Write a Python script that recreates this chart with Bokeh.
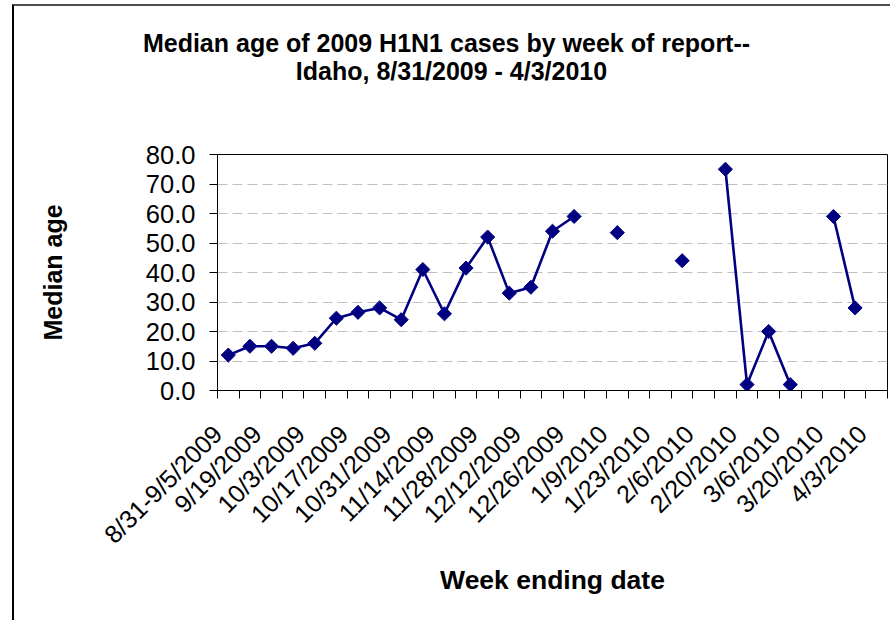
import numpy as np
from bokeh.plotting import figure
from bokeh.layouts import column
from bokeh.models import FixedTicker, PrintfTickFormatter, Label
from bokeh.embed import file_html
from bokeh.resources import INLINE

weeks = ["8/31-9/5/2009", "9/12/2009", "9/19/2009", "9/26/2009", "10/3/2009",
         "10/10/2009", "10/17/2009", "10/24/2009", "10/31/2009", "11/7/2009",
         "11/14/2009", "11/21/2009", "11/28/2009", "12/5/2009", "12/12/2009",
         "12/19/2009", "12/26/2009", "1/2/2010", "1/9/2010", "1/16/2010",
         "1/23/2010", "1/30/2010", "2/6/2010", "2/13/2010", "2/20/2010",
         "2/27/2010", "3/6/2010", "3/13/2010", "3/20/2010", "3/27/2010",
         "4/3/2010"]
median_age = [12.0, 15.0, 15.0, 14.3, 16.0, 24.5, 26.5, 28.0, 24.0, 41.0,
              26.0, 41.5, 52.0, 33.0, 35.0, 54.0, 59.0, None, 53.5, None,
              None, 44.0, None, 75.0, 2.0, 20.0, 2.0, None, 59.0, 28.0,
              None]
y_ticks = [0, 10, 20, 30, 40, 50, 60, 70, 80]
title_lines = ["Median age of 2009 H1N1 cases by week of report--",
               "Idaho, 8/31/2009 - 4/3/2010"]

FONT = "Liberation Sans"
NAVY = "#000080"
W = 876

# ---- title strip ----
TH = 100
tf = figure(width=W, height=TH, x_range=(0, W), y_range=(0, TH),
            x_axis_type=None, y_axis_type=None,
            output_backend="svg", toolbar_location=None,
            min_border=0, min_border_left=0, min_border_right=0,
            min_border_top=0, min_border_bottom=0, frame_align=False)
tf.grid.visible = False
tf.outline_line_color = None
tf.background_fill_color = "white"
tf.border_fill_color = "white"
for line_text, xx, yy in zip(title_lines, [432, 437], [64, 36]):
    tf.add_layout(Label(x=xx, y=yy, x_units="screen", y_units="screen",
                        text=line_text, text_align="center",
                        text_baseline="alphabetic", text_font=FONT,
                        text_font_style="bold", text_font_size="25px",
                        text_color="black"))

# ---- main chart ----
n = len(weeks)
xs = list(range(n))
ys = [np.nan if v is None else v for v in median_age]

p = figure(width=W, height=514, x_range=(-0.5, n - 0.5), y_range=(0, 80),
           output_backend="svg", toolbar_location=None,
           min_border_left=203, min_border_right=3, min_border_top=48,
           min_border_bottom=230, frame_align=False)
p.background_fill_color = "white"
p.border_fill_color = "white"
p.outline_line_color = "black"
p.outline_line_width = 1

p.line(xs, ys, line_color=NAVY, line_width=2.6)
p.scatter(xs, ys, marker="square", angle=np.pi / 4, size=10,
          fill_color=NAVY, line_color=NAVY)

# x axis: labels every other week, tick marks between categories
label_idx = list(range(0, n, 2))
label_pos = [max(i - 0.67, -0.5) for i in label_idx]
p.xaxis.ticker = FixedTicker(ticks=label_pos,
                             minor_ticks=[i - 0.5 for i in range(n + 1)])
p.xaxis.major_label_overrides = {pos: weeks[i] for pos, i in zip(label_pos, label_idx)}
p.xaxis.major_tick_line_color = None
p.xaxis.minor_tick_line_color = "black"
p.xaxis.minor_tick_out = 8
p.xaxis.minor_tick_in = 0
p.xaxis.major_label_orientation = np.pi / 4
p.xaxis.major_label_text_font = FONT
p.xaxis.major_label_text_font_size = "25px"
p.xaxis.major_label_text_color = "black"
p.xaxis.major_label_standoff = 31
p.xaxis.axis_line_color = "black"
p.xaxis.axis_label = "Week ending date"
p.xaxis.axis_label_text_font = FONT
p.xaxis.axis_label_text_font_style = "bold"
p.xaxis.axis_label_text_font_size = "26.5px"
p.xaxis.axis_label_text_color = "black"
p.xaxis.axis_label_standoff = 4

# y axis
p.yaxis.ticker = FixedTicker(ticks=y_ticks)
p.yaxis.formatter = PrintfTickFormatter(format="%.1f")
p.yaxis.major_tick_out = 8
p.yaxis.major_tick_in = 0
p.yaxis.minor_tick_line_color = None
p.yaxis.major_tick_line_color = "black"
p.yaxis.axis_line_color = "black"
p.yaxis.major_label_text_font = FONT
p.yaxis.major_label_text_font_size = "25.5px"
p.yaxis.major_label_text_color = "black"
p.yaxis.major_label_standoff = 14
p.yaxis.axis_label = "Median age"
p.yaxis.axis_label_text_font = FONT
p.yaxis.axis_label_text_font_style = "bold"
p.yaxis.axis_label_text_font_size = "25px"
p.yaxis.axis_label_text_color = "black"
p.yaxis.axis_label_standoff = 76

p.xgrid.grid_line_color = None
p.ygrid.grid_line_color = "#c0c0c0"
p.ygrid.grid_line_dash = "10 5"
p.ygrid.grid_line_width = 1

layout = column(tf, p, spacing=0,
                styles={"margin-left": "12px", "margin-top": "4px",
                        "border-top": "2px solid #4d4d4d",
                        "border-left": "2px solid #000000"})

open("out.html", "w").write(file_html(layout, INLINE))
